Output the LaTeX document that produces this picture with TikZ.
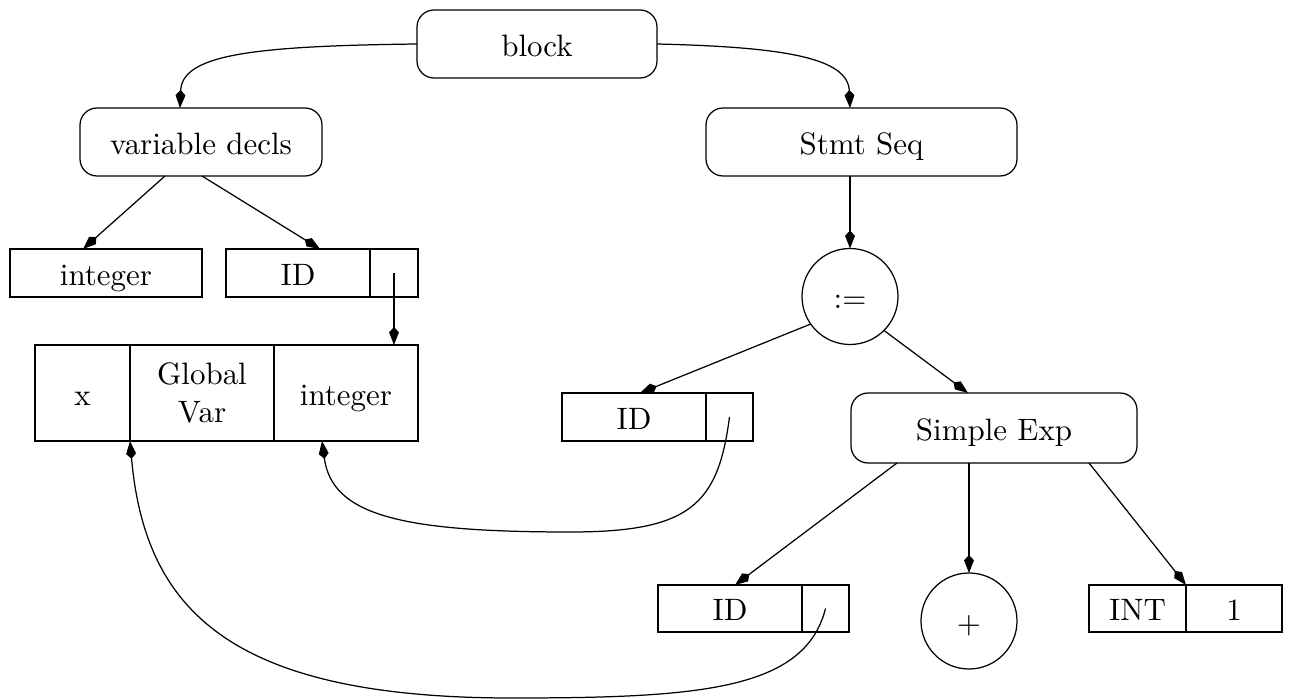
\documentclass[tikz,border=0pt]{standalone}
\usetikzlibrary{arrows.meta,calc}
\newcommand\pxu{0.323pt}
\begin{document}
\begin{tikzpicture}[x=0.323pt,y=-0.323pt,
  every node/.style={inner sep=0pt,outer sep=0pt},
  oneline/.style={text height=8pt,text depth=0pt},
  rbox/.style={draw,oneline,rounded corners=5.5pt,minimum height=68*\pxu},
  cell/.style={draw,rectangle,oneline},
  circ/.style={draw,circle,oneline,minimum size=96*\pxu},
  edge/.style={draw,-{Kite[length=5.8pt,width=3.2pt,inset=1.7pt]}},
]
\useasboundingbox (0,0) rectangle (1290,699);
% tree nodes
\node[rbox,minimum width=240*\pxu] (block) at (537,44) {block};
\node[rbox,minimum width=242*\pxu] (vd) at (201,142) {variable decls};
\node[rbox,minimum width=311*\pxu] (ss) at (861.5,142) {Stmt Seq};
\node[circ] (assign) at (850,296.5) {:=};
\node[rbox,minimum width=286*\pxu,minimum height=70*\pxu] (se) at (994,428) {Simple Exp};
\node[circ] (plus) at (969,621) {+};
% records
\node[cell,minimum width=192*\pxu,minimum height=48*\pxu] (int1) at (106,273) {integer};
\node[cell,minimum width=144*\pxu,minimum height=48*\pxu] (id1) at (298,273) {ID};
\node[cell,minimum width=48*\pxu,minimum height=48*\pxu] (p1) at (394,273) {};
\node[cell,minimum width=95*\pxu,minimum height=96*\pxu] (rec1) at (82.5,393) {x};
\node[draw,rectangle,minimum width=144*\pxu,minimum height=96*\pxu,align=center] (rec2) at (202,393) {Global\\Var};
\node[cell,minimum width=144*\pxu,minimum height=96*\pxu] (rec3) at (346,393) {integer};
\node[cell,minimum width=144*\pxu,minimum height=48*\pxu] (idm) at (634,417) {ID};
\node[cell,minimum width=47*\pxu,minimum height=48*\pxu] (pm) at (729.5,417) {};
\node[cell,minimum width=144*\pxu,minimum height=47*\pxu] (idb) at (730,608.5) {ID};
\node[cell,minimum width=47*\pxu,minimum height=47*\pxu] (pb) at (825.5,608.5) {};
\node[cell,minimum width=97*\pxu,minimum height=47*\pxu] (intk) at (1137.5,608.5) {INT};
\node[cell,minimum width=96*\pxu,minimum height=47*\pxu] (intv) at (1234,608.5) {1};
% connectors
\draw[edge] (block.west) .. controls (250,46) and (182,55) .. ($(vd.north)+(-21,0)$);
\draw[edge] (block.east) .. controls (785,47) and (848,58) .. ($(ss.north)+(-11.5,0)$);
\draw[edge] ($(vd.south)+(-36,0)$) -- ($(int1.north)+(-23,0)$);
\draw[edge] ($(vd.south)+(1,0)$) -- ($(id1.north)+(22,0)$);
\draw[edge] (p1.center) -- (p1.center |- rec3.north);
\draw[edge] (assign.north |- ss.south) -- (assign.north);
\draw[edge] (assign.215) -- ($(idm.north)+(6,0)$);
\draw[edge] (assign.-45) -- ($(se.north)+(-26,0)$);
\draw[edge] (pm.center) .. controls (718,505) and (690,532) .. (570,532)
  .. controls (400,532) and (332,515) .. ($(rec3.south)+(-24,0)$);
\draw[edge] ($(se.south)+(-97,0)$) -- ($(idb.north)+(5,0)$);
\draw[edge] (plus.north |- se.south) -- (plus.north);
\draw[edge] ($(se.south)+(95,0)$) -- (intk.north east);
\draw[edge] (pb.center) .. controls (805,690) and (700,698) .. (512,698)
  .. controls (230,698) and (145,610) .. (rec1.south east);
\end{tikzpicture}
\end{document}
